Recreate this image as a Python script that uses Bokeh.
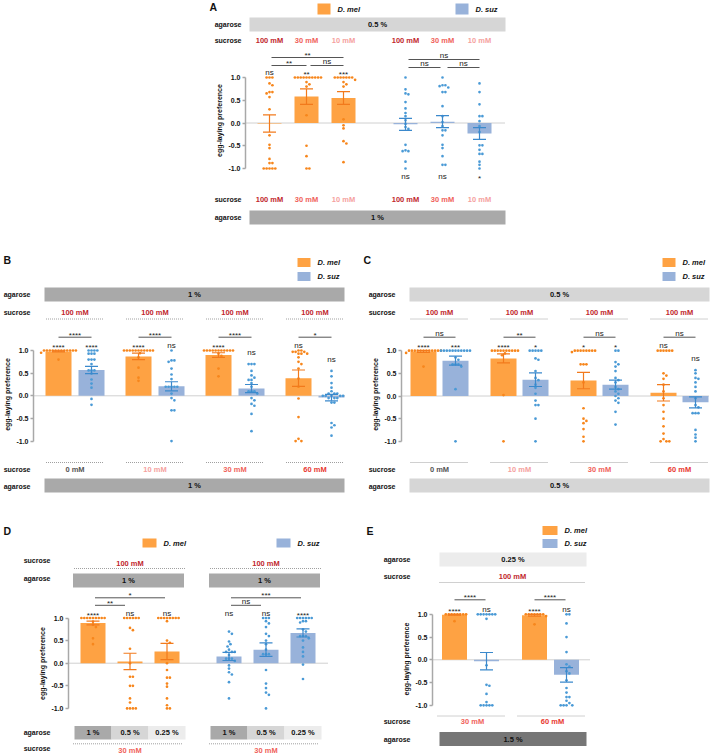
from bokeh.plotting import figure
from bokeh.models import Range1d, LinearAxis, FixedTicker, PrintfTickFormatter, Label
from bokeh.layouts import column, row
from bokeh.embed import file_html
from bokeh.resources import INLINE

FONT = "Liberation Sans"
MEL_BAR, MEL_DOT, MEL_ERR = "#fea243", "#f7861c", "#f27a1c"
SUZ_BAR, SUZ_DOT, SUZ_ERR = "#98b2da", "#4a9ad6", "#3b89cc"
CONC_COL = {"100 mM": "#c1272d", "60 mM": "#e8372f", "30 mM": "#f0625a",
            "10 mM": "#f5a19e", "0 mM": "#555555"}
AG_COL = {"1.5 %": "#767676", "1 %": "#a9a9a9", "0.5 %": "#d6d6d6", "0.25 %": "#ececec"}

# ---------------- data: panel A ----------------
A_conc = ["100 mM", "30 mM", "10 mM"]
A_mel_mean = [-0.01, 0.58, 0.55]
A_mel_sem = [0.19, 0.17, 0.14]
A_suz_mean = [-0.03, 0.03, -0.23]
A_suz_sem = [0.13, 0.13, 0.13]
A_mel_pts = [
    [1.0, 1.0, 1.0, 0.87, 0.83, 0.68, 0.68, 0.65, 0.57, 0.30, -0.27, -0.48, -0.55, -0.79, -0.88, -0.88, -1.0, -1.0, -1.0, -1.0, -1.0],
    [1.0, 1.0, 1.0, 1.0, 1.0, 1.0, 1.0, 1.0, 1.0, 1.0, 0.9, 0.85, 0.8, 0.17, -0.5, -0.73, -1.0, -1.0],
    [1.0, 1.0, 1.0, 1.0, 1.0, 1.0, 1.0, 0.95, 0.9, 0.85, 0.8, 0.08, -0.05, -0.12, -0.4, -0.45, -0.86],
]
A_suz_pts = [
    [1.0, 0.74, 0.65, 0.63, 0.46, 0.32, 0.22, 0.15, 0.06, -0.02, -0.09, -0.13, -0.48, -0.6, -0.62, -0.62, -0.85, -1.0],
    [1.0, 0.83, 0.83, 0.81, 0.78, 0.68, 0.68, 0.37, 0.15, 0.02, -0.07, -0.16, -0.16, -0.27, -0.48, -0.55, -0.73, -0.92, -0.92],
    [0.87, 0.68, 0.41, 0.15, 0.15, 0.04, -0.07, -0.2, -0.49, -0.49, -0.59, -0.68, -0.68, -0.85, -0.92, -1.0],
]
A_mel_sig = ["ns", "**", "***"]
A_suz_sig = ["ns", "ns", "*"]
A_mel_pairs = ["**", "**", "ns"]   # 100 vs 10, 100 vs 30, 30 vs 10
A_suz_pairs = ["ns", "ns", "ns"]

# ---------------- data: panel B (1 % agarose) ----------------
B_conc = ["0 mM", "10 mM", "30 mM", "60 mM"]
B_mel_mean = [0.98, 0.87, 0.90, 0.39]
B_mel_sem = [0.01, 0.07, 0.05, 0.18]
B_suz_mean = [0.57, 0.21, 0.16, -0.04]
B_suz_sem = [0.08, 0.10, 0.09, 0.07]
B_mel_pts = [
    [1.0, 1.0, 1.0, 1.0, 1.0, 1.0, 1.0, 1.0, 1.0, 1.0, 1.0, 1.0, 0.95, 0.8],
    [1.0, 1.0, 1.0, 1.0, 1.0, 1.0, 1.0, 1.0, 1.0, 1.0, 1.0, 0.94, 0.85, 0.62, 0.4, 0.33],
    [1.0, 1.0, 1.0, 1.0, 1.0, 1.0, 1.0, 1.0, 1.0, 1.0, 1.0, 0.93, 0.88, 0.6, 0.43],
    [1.0, 1.0, 0.97, 0.97, 0.97, 0.93, 0.93, 0.93, 0.85, 0.75, 0.7, 0.6, 0.38, 0.2, -0.06, -0.47, -0.95, -1.0, -1.0],
]
B_suz_pts = [
    [1.0, 1.0, 1.0, 1.0, 0.93, 0.93, 0.93, 0.8, 0.8, 0.8, 0.7, 0.56, 0.56, 0.56, 0.49, 0.36, 0.27, 0.18, -0.07, -0.2],
    [1.0, 0.78, 0.78, 0.75, 0.6, 0.47, 0.37, 0.2, 0.2, 0.2, 0.2, 0.2, 0.05, -0.05, -0.1, -0.32, -0.32, -1.0],
    [0.7, 0.7, 0.7, 0.55, 0.45, 0.4, 0.35, 0.35, 0.28, 0.2, 0.1, 0.1, 0.1, 0.05, -0.05, -0.1, -0.18, -0.22, -0.4, -0.78],
    [0.55, 0.43, 0.28, 0.18, 0.1, 0.05, 0.05, 0.05, 0.0, 0.0, 0.0, 0.0, 0.0, -0.05, -0.05, -0.05, -0.15, -0.15, -0.6, -0.65, -0.7, -0.88],
]
B_mel_sig = ["****", "****", "****", "ns"]
B_suz_sig = ["****", "ns", "ns", "ns"]
B_pair_sig = ["****", "****", "****", "*"]

# ---------------- data: panel C (0.5 % agarose) ----------------
C_conc = ["0 mM", "10 mM", "30 mM", "60 mM"]
C_mel_mean = [0.98, 0.83, 0.34, 0.07]
C_mel_sem = [0.02, 0.10, 0.18, 0.18]
C_suz_mean = [0.78, 0.36, 0.25, -0.14]
C_suz_sem = [0.10, 0.15, 0.10, 0.12]
C_mel_pts = [
    [1.0, 1.0, 1.0, 1.0, 1.0, 1.0, 1.0, 1.0, 1.0, 1.0, 1.0, 1.0, 0.95, 0.65],
    [1.0, 1.0, 1.0, 1.0, 1.0, 1.0, 1.0, 1.0, 1.0, 1.0, 0.94, 0.9, 0.02, -1.0],
    [1.0, 1.0, 1.0, 1.0, 1.0, 1.0, 1.0, 1.0, 0.97, 0.7, 0.7, 0.7, 0.3, -0.27, -0.5, -0.55, -0.6, -0.73, -0.9, -1.0],
    [1.0, 1.0, 1.0, 1.0, 1.0, 1.0, 0.5, 0.45, 0.38, 0.25, 0.1, -0.05, -0.2, -0.35, -0.5, -0.67, -0.83, -0.95, -1.0, -1.0, -1.0],
]
C_suz_pts = [
    [1.0, 1.0, 1.0, 1.0, 1.0, 1.0, 1.0, 1.0, 1.0, 1.0, 1.0, 0.85, 0.8, 0.7, 0.7, 0.7, 0.65, 0.15, -1.0],
    [1.0, 1.0, 1.0, 1.0, 1.0, 0.83, 0.8, 0.55, 0.4, 0.35, 0.25, 0.18, 0.05, -0.1, -0.2, -0.2, -0.5, -1.0],
    [1.0, 1.0, 0.75, 0.7, 0.65, 0.55, 0.4, 0.35, 0.3, 0.2, 0.15, 0.1, 0.05, 0.0, -0.05, -0.1, -0.15, -0.35, -0.63],
    [0.57, 0.5, 0.4, 0.38, 0.3, 0.2, 0.1, -0.05, -0.2, -0.25, -0.38, -0.38, -0.38, -0.75, -0.85, -0.92, -1.0],
]
C_mel_sig = ["****", "****", "*", "ns"]
C_suz_sig = ["***", "*", "*", "ns"]
C_pair_sig = ["ns", "**", "ns", "ns"]

# ---------------- data: panel D (30 mM, agarose varies) ----------------
D_agar = ["1 %", "0.5 %", "0.25 %"]
D_mel_mean = [0.89, 0.04, 0.26]
D_mel_sem = [0.04, 0.18, 0.18]
D_suz_mean = [0.15, 0.30, 0.67]
D_suz_sem = [0.09, 0.15, 0.09]
D_mel_pts = [
    [1.0, 1.0, 1.0, 1.0, 1.0, 1.0, 1.0, 1.0, 1.0, 0.92, 0.85, 0.8, 0.55, 0.42],
    [1.0, 1.0, 1.0, 1.0, 1.0, 1.0, 0.78, 0.73, 0.32, 0.0, -0.3, -0.3, -0.5, -0.5, -0.78, -0.87, -1.0, -1.0, -1.0, -1.0],
    [1.0, 1.0, 1.0, 1.0, 1.0, 1.0, 1.0, 1.0, 0.93, 0.5, 0.45, 0.0, -0.15, -0.32, -0.32, -0.45, -0.52, -0.78, -0.93, -1.0, -1.0],
]
D_suz_pts = [
    [0.7, 0.65, 0.48, 0.42, 0.37, 0.3, 0.25, 0.25, 0.25, 0.18, 0.1, 0.1, 0.1, 0.05, -0.05, -0.12, -0.2, -0.25, -0.42, -0.78],
    [1.0, 1.0, 1.0, 0.93, 0.88, 0.8, 0.65, 0.6, 0.5, 0.42, 0.3, 0.2, 0.2, 0.2, -0.15, -0.45, -0.55, -0.65, -0.7, -1.0],
    [1.0, 1.0, 1.0, 1.0, 1.0, 1.0, 0.93, 0.93, 0.9, 0.75, 0.7, 0.6, 0.6, 0.6, 0.55, 0.5, 0.35, 0.25, 0.15, -0.03, -0.35],
]
D_mel_sig = ["****", "ns", "ns"]
D_suz_sig = ["ns", "ns", "****"]
D_mel_pairs = ["*", "**"]    # 1 vs 0.25, 1 vs 0.5
D_suz_pairs = ["***", "ns"]

# ---------------- data: panel E (1.5 % agarose) ----------------
E_conc = ["30 mM", "60 mM"]
E_mel_mean = [0.99, 0.98]
E_mel_sem = [0.01, 0.02]
E_suz_mean = [-0.03, -0.33]
E_suz_sem = [0.19, 0.16]
E_mel_pts = [
    [1.0, 1.0, 1.0, 1.0, 1.0, 1.0, 1.0, 1.0, 0.85],
    [1.0, 1.0, 1.0, 1.0, 1.0, 1.0, 1.0, 0.96, 0.78],
]
E_suz_pts = [
    [1.0, 1.0, 1.0, 1.0, 1.0, 1.0, 1.0, 0.9, -0.12, -0.55, -0.57, -0.75, -0.93, -1.0, -1.0, -1.0, -1.0, -1.0],
    [1.0, 1.0, 0.8, 0.5, 0.17, -0.1, -0.15, -0.25, -0.3, -0.45, -0.62, -0.72, -0.82, -0.82, -0.9, -0.95, -1.0, -1.0, -1.0, -1.0],
]
E_mel_sig = ["****", "****"]
E_suz_sig = ["ns", "ns"]
E_pair_sig = ["****", "****"]


# ---------------- helpers ----------------
class Panel:
    """Three stacked figures: header (no axis), plot (with y axis), footer (no axis)."""

    def __init__(self, ox, W, splits, L, y0, s):
        self.s = s
        self.y0 = y0
        self.spans = [(splits[0], splits[1]), (splits[1], splits[2]), (splits[2], splits[3])]
        self.figs = []
        for k, (a, b) in enumerate(self.spans):
            Lk = L if k == 1 else 0
            p = figure(width=W, height=b - a, x_range=Range1d(ox + Lk, ox + W),
                       y_range=Range1d(self.V(b), self.V(a)), output_backend="svg",
                       toolbar_location=None, x_axis_location=None, y_axis_location=None,
                       min_border_left=Lk, min_border_right=0, min_border_top=0,
                       min_border_bottom=0)
            p.outline_line_color = None
            p.xgrid.visible = False
            p.ygrid.visible = False
            if k == 1:
                ax = LinearAxis(
                    ticker=FixedTicker(ticks=[-1, -0.5, 0, 0.5, 1], minor_ticks=[]),
                    formatter=PrintfTickFormatter(format="%.1f"), bounds=(-1, 1),
                    axis_label="egg-laying preference", axis_label_text_font=FONT,
                    axis_label_text_font_size="7px", axis_label_text_font_style="bold",
                    axis_label_standoff=2, axis_label_text_color="#111111",
                    major_label_text_font=FONT, major_label_text_font_size="7px",
                    major_label_text_font_style="bold", major_label_standoff=2,
                    major_label_text_color="#111111",
                    axis_line_color="#a8a8a8", axis_line_width=1.5,
                    major_tick_line_color="#a8a8a8", major_tick_line_width=1.5,
                    major_tick_out=3, major_tick_in=0, minor_tick_out=0, minor_tick_in=0)
                p.add_layout(ax, "left")
            self.figs.append(p)
        self.plot = self.figs[1]

    def V(self, yi):
        return (self.y0 - yi) / self.s

    def f(self, yi):
        for p, (a, b) in zip(self.figs, self.spans):
            if a <= yi < b:
                return p
        return self.figs[-1]

    def layout(self):
        # each figure in its own row so that the column does not align their frames
        return column(*[row(p) for p in self.figs])


def T(P, x, yi, text, size=7.0, color="#111111", style="bold", align="left"):
    P.f(yi).add_layout(Label(x=x, y=P.V(yi), text=text, text_font=FONT,
                             text_font_size=f"{size}px", text_color=color,
                             text_font_style=style, text_align=align, text_baseline="middle"))


def sig(P, x, yi, text):
    if text.startswith("*"):
        T(P, x, yi + 2.0, text, 8, "#222222", "normal", "center")
    else:
        T(P, x, yi, text, 8, "#222222", "normal", "center")


def band(P, x0, x1, y0i, y1i, text, tcolor="#111111"):
    P.f((y0i + y1i) / 2).quad(left=[x0], right=[x1], top=[P.V(y0i)], bottom=[P.V(y1i)],
                              fill_color=AG_COL[text], line_color=None)
    T(P, (x0 + x1) / 2, (y0i + y1i) / 2, text, 7.5, tcolor, "bold", "center")


def dline(P, x0, x1, yi):
    P.f(yi).segment(x0=[x0], y0=[P.V(yi)], x1=[x1], y1=[P.V(yi)], line_color="#a0a0a0",
                    line_dash="1 1", line_width=1)


def bracket(P, x0, x1, yi, text):
    P.f(yi).segment(x0=[x0], y0=[P.V(yi)], x1=[x1], y1=[P.V(yi)], line_color="#555555",
                    line_width=1)
    sig(P, (x0 + x1) / 2, yi - 4, text)


def legend(P, x, yi, dxy, w, h):
    for k, (name, col) in enumerate((("D. mel", MEL_BAR), ("D. suz", SUZ_BAR))):
        xx = x + k * dxy[0]
        yy = yi + k * dxy[1]
        P.f(yy).quad(left=[xx], right=[xx + w], top=[P.V(yy - h / 2)], bottom=[P.V(yy + h / 2)],
                     fill_color=col, line_color=None)
        T(P, xx + w + 7, yy, name, 7.5, "#111111", "bold italic", "left")


def swarm(vals, xc, s, d=2.9):
    order = sorted(range(len(vals)), key=lambda i: -vals[i])
    cands = [0.0]
    for j in range(1, 30):
        cands += [j * d / 2, -j * d / 2]
    placed, out = [], [0.0] * len(vals)
    for i in order:
        y = vals[i] * s
        for off in cands:
            if all((off - px) ** 2 + (y - py) ** 2 >= d * d * 0.92 for px, py in placed):
                break
        placed.append((off, y))
        out[i] = xc + off
    return out


def groups(P, xm, xs, mm, ms, sm, ss, mp, sp, bw, cap=13):
    p, s = P.plot, P.s
    p.vbar(x=xm, top=mm, bottom=0, width=bw, fill_color=MEL_BAR, line_color=None)
    p.vbar(x=xs, top=sm, bottom=0, width=bw, fill_color=SUZ_BAR, line_color=None)
    for cs, pts, col in ((xm, mp, MEL_DOT), (xs, sp, SUZ_DOT)):
        X, Y = [], []
        for c, v in zip(cs, pts):
            X += swarm(v, c, s)
            Y += v
        p.scatter(x=X, y=Y, size=2.7, marker="circle", fill_color=col, line_color=None)
    for cs, mean, sem, col in ((xm, mm, ms, MEL_ERR), (xs, sm, ss, SUZ_ERR)):
        lo = [m - e for m, e in zip(mean, sem)]
        hi = [m + e for m, e in zip(mean, sem)]
        p.segment(x0=cs, y0=lo, x1=cs, y1=hi, line_color=col, line_width=1.2)
        l = [c - cap / 2 for c in cs]
        r = [c + cap / 2 for c in cs]
        p.segment(x0=l, y0=hi, x1=r, y1=hi, line_color=col, line_width=1.2)
        p.segment(x0=l, y0=lo, x1=r, y1=lo, line_color=col, line_width=1.2)


def top_label_val(pts, cap):
    return min(max(pts) + 0.25, cap)


# ================= Panel A =================
PA = Panel(0, 720, [0, 48, 192, 240], 245, 122.5, 45.5)
A_mx = [269 + 37 * i for i in range(len(A_conc))]
A_sx = [405 + 37 * i for i in range(len(A_conc))]
T(PA, 209, 6, "A", 10.5)
legend(PA, 317, 8.5, (138, 0), 13, 11)
T(PA, 241, 24, "agarose", align="right")
band(PA, 249, 505, 17, 31, "0.5 %")
T(PA, 241, 40, "sucrose", align="right")
for xs_ in (A_mx, A_sx):
    for x, c in zip(xs_, A_conc):
        T(PA, x, 40, c, 7.5, CONC_COL[c], "bold", "center")
bracket(PA, A_mx[0] + 2, A_mx[2], 57, A_mel_pairs[0])
bracket(PA, A_mx[0] + 2, A_mx[1], 65, A_mel_pairs[1])
bracket(PA, A_mx[1] + 4, A_mx[2], 65, A_mel_pairs[2])
bracket(PA, A_sx[0] + 3, A_sx[2], 59, A_suz_pairs[0])
bracket(PA, A_sx[0] + 3, A_sx[1] - 2, 67, A_suz_pairs[1])
bracket(PA, A_sx[1] + 5, A_sx[2], 67, A_suz_pairs[2])
dline(PA, 245, 505, 122.5)
groups(PA, A_mx, A_sx, A_mel_mean, A_mel_sem, A_suz_mean, A_suz_sem,
       A_mel_pts, A_suz_pts, 24)
for x, t in zip(A_mx, A_mel_sig):
    sig(PA, x, 72, t)
for x, t in zip(A_sx, A_suz_sig):
    sig(PA, x, 176, t)
T(PA, 241, 199, "sucrose", align="right")
for xs_ in (A_mx, A_sx):
    for x, c in zip(xs_, A_conc):
        T(PA, x, 199, c, 7.5, CONC_COL[c], "bold", "center")
T(PA, 241, 217, "agarose", align="right")
band(PA, 249, 505, 210, 224, "1 %")


# ================= Panels B and C =================
def panel_bc(ox, L, y0, axis_x, letter, cx0, off, band_x, leg_x, lab_x, agar, conc,
             mm, ms, sm, ss, mp, sp, msig, ssig, psig):
    P = Panel(ox, 360, [240, 328, 460, 525], L, y0, 45.3)
    cx = [cx0 + 80 * i for i in range(len(conc))]
    xm = [c - off for c in cx]
    xs = [c + off for c in cx]
    T(P, ox + 3, 259, letter, 10.5)
    legend(P, leg_x, 262, (0, 14), 13, 9)
    T(P, lab_x, 294, "agarose", align="right")
    band(P, band_x[0], band_x[1], 287, 301, agar)
    T(P, lab_x, 312, "sucrose", align="right")
    for c in cx:
        T(P, c, 312, "100 mM", 7.5, CONC_COL["100 mM"], "bold", "center")
        dline(P, c - 29, c + 29, 318.5)
        dline(P, c - 29, c + 29, 462)
    for a, b, t in zip(xm, xs, psig):
        bracket(P, a, b, 336.7, t)
    dline(P, axis_x, band_x[1], y0)
    groups(P, xm, xs, mm, ms, sm, ss, mp, sp, 26)
    for x, t, pts in zip(xm, msig, mp):
        sig(P, x, y0 - P.s * top_label_val(pts, 1.12), t)
    for x, t, pts in zip(xs, ssig, sp):
        sig(P, x, y0 - P.s * top_label_val(pts, 1.12), t)
    T(P, lab_x, 469, "sucrose", align="right")
    for c, k in zip(cx, conc):
        T(P, c, 469, k, 7.5, CONC_COL[k], "bold", "center")
    T(P, lab_x, 486, "agarose", align="right")
    band(P, band_x[0], band_x[1], 478, 492, agar)
    return P


PB = panel_bc(0, 33, 395.3, 33, "B", 74.5, 16.5, (44, 344), 297, 30, "1 %", B_conc,
              B_mel_mean, B_mel_sem, B_suz_mean, B_suz_sem, B_mel_pts, B_suz_pts,
              B_mel_sig, B_suz_sig, B_pair_sig)
PC = panel_bc(360, 41, 395.5, 401, "C", 439, 16, (409, 709), 662, 395, "0.5 %", C_conc,
              C_mel_mean, C_mel_sem, C_suz_mean, C_suz_sem, C_mel_pts, C_suz_pts,
              C_mel_sig, C_suz_sig, C_pair_sig)

# ================= Panel D =================
PD = Panel(0, 360, [525, 608, 718, 754], 68, 662.7, 45.2)
D_gx = [129.5, 265.5]
D_mx = [D_gx[0] + 37 * (i - 1) for i in range(len(D_agar))]
D_sx = [D_gx[1] + 37 * (i - 1) for i in range(len(D_agar))]
T(PD, 3, 530, "D", 10.5)
legend(PD, 142, 542.5, (134, 0), 14, 9)
T(PD, 50, 560, "sucrose", align="right")
T(PD, 50, 578, "agarose", align="right")
for g in D_gx:
    T(PD, g, 563, "100 mM", 7.5, CONC_COL["100 mM"], "bold", "center")
    dline(PD, g - 56, g + 55, 568)
    band(PD, g - 57, g + 54, 573, 587, "1 %")
for xs_, pairs in ((D_mx, D_mel_pairs), (D_sx, D_suz_pairs)):
    bracket(PD, xs_[0] + 2, xs_[2] - 2, 597.3, pairs[0])
    bracket(PD, xs_[0] + 2, xs_[1] - 5, 604.8, pairs[1])
dline(PD, 68, 327, 662.7)
groups(PD, D_mx, D_sx, D_mel_mean, D_mel_sem, D_suz_mean, D_suz_sem,
       D_mel_pts, D_suz_pts, 25)
for x, t in zip(D_mx + D_sx, D_mel_sig + D_suz_sig):
    sig(PD, x, 612.5, t)
T(PD, 50, 731.5, "agarose", align="right")
for xs_ in (D_mx, D_sx):
    for x, a in zip(xs_, D_agar):
        band(PD, x - 18.5, x + 18.5, 725.5, 739, a)
    dline(PD, xs_[0] - 20, xs_[2] + 16, 743.3)
    T(PD, xs_[1], 749.8, "30 mM", 7.5, CONC_COL["30 mM"], "bold", "center")
T(PD, 50, 747.5, "sucrose", align="right")

# ================= Panel E =================
PE = Panel(360, 360, [525, 603, 714, 754], 72, 659.3, 45.5)
E_gx = [470 + 80 * i for i in range(len(E_conc))]
E_mx = [g - 16 for g in E_gx]
E_sx = [g + 16 for g in E_gx]
T(PE, 366, 530, "E", 10.5)
legend(PE, 542, 530, (0, 13), 15, 9)
T(PE, 410, 559, "agarose", align="right")
band(PE, 439, 586, 552, 566, "0.25 %")
T(PE, 410, 576, "sucrose", align="right")
T(PE, 512, 576, "100 mM", 7.5, CONC_COL["100 mM"], "bold", "center")
dline(PE, 439, 584, 582)
for a, b, t in zip(E_mx, E_sx, E_pair_sig):
    bracket(PE, a, b - 1, 599.3, t)
dline(PE, 432, 590, 659.3)
groups(PE, E_mx, E_sx, E_mel_mean, E_mel_sem, E_suz_mean, E_suz_sem,
       E_mel_pts, E_suz_pts, 25)
for x, t in zip(E_mx + E_sx, E_mel_sig + E_suz_sig):
    sig(PE, x, 609, t)
T(PE, 410, 721, "sucrose", align="right")
for g, c in zip(E_gx, E_conc):
    dline(PE, g - 33, g + 34, 715.5)
    T(PE, g + 2, 721, c, 7.5, CONC_COL[c], "bold", "center")
T(PE, 410, 739, "agarose", align="right")
band(PE, 439, 586, 731.5, 745.5, "1.5 %")

layout = column(PA.layout(), row(PB.layout(), PC.layout()), row(PD.layout(), PE.layout()))
open("out.html", "w").write(file_html(layout, INLINE))
